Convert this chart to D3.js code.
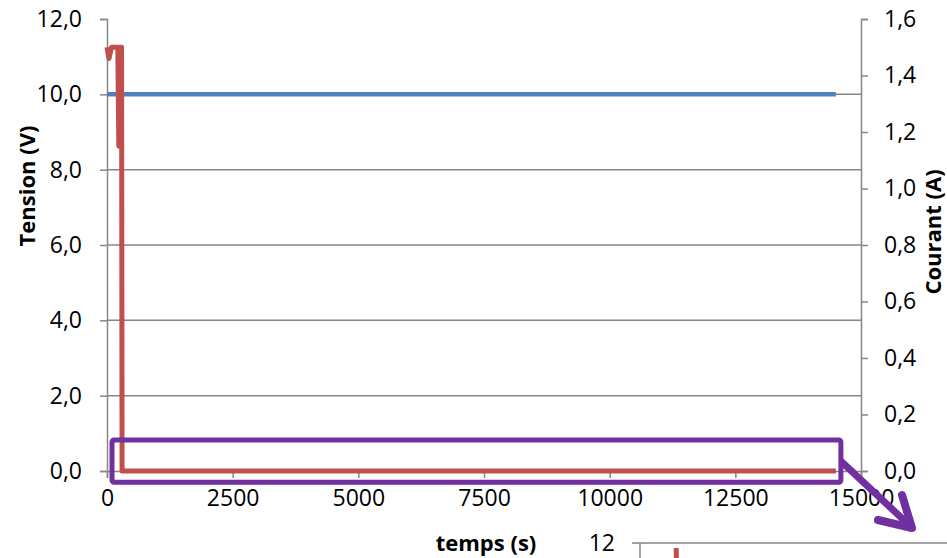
<!DOCTYPE html>
<html>
<head>
<meta charset="utf-8">
<script src="https://cdnjs.cloudflare.com/ajax/libs/d3/7.8.5/d3.min.js"></script>
<style>
  body { margin: 0; background: #fff; overflow: hidden; }
  svg text { font-family: "Open Sans", "Liberation Sans", sans-serif; fill: #000; }
  .tick-label { font-size: 23px; }
  .label { font-size: 22px; font-weight: bold; }
</style>
</head>
<body>
<div id="chart"></div>
<script>
//setup spacing size
var svg_w = 947;
var svg_h = 558;
var margin = {top: 19, right: 86, bottom: 87, left: 107};
var width = svg_w - margin.left - margin.right;
var height = svg_h - margin.top - margin.bottom;

//data
var voltTime = [0, 2000, 4000, 6000, 8000, 10000, 12000, 14500];
var voltValues = [10.0, 10.0, 10.0, 10.0, 10.0, 10.0, 10.0, 10.0];

var currTime = [0, 40, 90, 150, 215, 235, 250, 290, 300, 320, 5000, 10000, 14500];
var currValues = [1.50, 1.46, 1.50, 1.50, 1.50, 1.15, 1.50, 1.50, 0.0, 0.0, 0.0, 0.0, 0.0];

var xTicks = [0, 2500, 5000, 7500, 10000, 12500, 15000];
var voltTicks = [0, 2, 4, 6, 8, 10, 12];
var currTicks = [0, 0.2, 0.4, 0.6, 0.8, 1.0, 1.2, 1.4, 1.6];

//inset (zoomed view, only its top edge is visible)
var insetTime = [290, 305];
var insetValues = [11.8, 0];
var insetTicks = [12];

var svg = d3.select("#chart")
    .append("svg")
    .attr("width", svg_w)
    .attr("height", svg_h);

var g = svg.append("g")
    .attr("transform", "translate(" + margin.left + "," + margin.top + ")");

//scales
var xScale = d3.scaleLinear().domain([0, 15000]).range([0, width]);
var yLeft = d3.scaleLinear().domain([0, 12]).range([height, 0]);
var yRight = d3.scaleLinear().domain([0, 1.6]).range([height, 0]);

var fmt = function(d) { return d3.format(".1f")(d).replace(".", ","); };

//gridlines
g.append("g")
    .selectAll("line")
    .data(voltTicks.filter(function(d) { return d > 0 && d < 12; }))
    .enter()
    .append("line")
    .attr("x1", 0)
    .attr("x2", width)
    .attr("y1", function(d) { return yLeft(d); })
    .attr("y2", function(d) { return yLeft(d); })
    .attr("stroke", "#868686")
    .attr("stroke-width", 1.5);

//axes
var axisL = g.append("g")
    .call(d3.axisLeft(yLeft).tickValues(voltTicks).tickFormat(fmt).tickSize(7).tickPadding(18));

var axisR = g.append("g")
    .attr("transform", "translate(" + width + ",0)")
    .call(d3.axisRight(yRight).tickValues(currTicks).tickFormat(fmt).tickSize(7).tickPadding(16));

var axisB = g.append("g")
    .attr("transform", "translate(0," + height + ")")
    .call(d3.axisBottom(xScale).tickValues(xTicks).tickFormat(d3.format("d")).tickSize(7).tickPadding(12));

[axisL, axisR, axisB].forEach(function(a) {
    a.select(".domain").attr("stroke", "#868686").attr("stroke-width", 1.5);
    a.selectAll(".tick line").attr("stroke", "#868686").attr("stroke-width", 1.5);
    a.selectAll(".tick text")
        .attr("class", "tick-label")
        .attr("font-size", null)
        .attr("font-family", null)
        .style("fill", "#000");
    a.attr("font-size", null).attr("font-family", null);
});

//series
var line = function(ys, times, vals) {
    return d3.line()
        .x(function(d, i) { return xScale(times[i]); })
        .y(function(d) { return ys(d); })(vals);
};

g.append("path")
    .attr("d", line(yLeft, voltTime, voltValues))
    .attr("fill", "none")
    .attr("stroke", "#4F81BD")
    .attr("stroke-width", 4.5);

g.append("path")
    .attr("d", line(yRight, currTime, currValues))
    .attr("fill", "none")
    .attr("stroke", "#C0504D")
    .attr("stroke-width", 5)
    .attr("stroke-linejoin", "round");

//axis titles
g.append("text")
    .attr("class", "label")
    .attr("x", width / 2 + 2)
    .attr("y", height + 80)
    .style("text-anchor", "middle")
    .text("temps (s)");

g.append("text")
    .attr("class", "label")
    .attr("transform", "translate(" + (-margin.left + 35) + "," + 167 + ") rotate(-90)")
    .style("text-anchor", "middle")
    .text("Tension (V)");

g.append("text")
    .attr("class", "label")
    .attr("transform", "translate(" + (width + 80) + "," + 213 + ") rotate(-90)")
    .style("text-anchor", "middle")
    .text("Courant (A)");

//inset chart peeking in at the bottom
var inset = svg.append("g").attr("transform", "translate(640,543)");
var ixScale = d3.scaleLinear().domain([0, 1000]).range([0, 125]);
var iyScale = d3.scaleLinear().domain([0, 12]).range([300, 0]);

inset.append("line")
    .attr("x1", -8).attr("x2", 320)
    .attr("y1", iyScale(12)).attr("y2", iyScale(12))
    .attr("stroke", "#868686").attr("stroke-width", 1.5);
inset.append("line")
    .attr("x1", 0).attr("x2", 0)
    .attr("y1", iyScale(12)).attr("y2", 30)
    .attr("stroke", "#868686").attr("stroke-width", 1.5);
inset.selectAll(".itick")
    .data(insetTicks)
    .enter()
    .append("text")
    .attr("class", "tick-label")
    .attr("x", -25)
    .attr("y", function(d) { return iyScale(d); })
    .attr("dy", "0.35em")
    .style("text-anchor", "end")
    .text(function(d) { return d; });
inset.append("path")
    .attr("d", d3.line()
        .x(function(d, i) { return ixScale(insetTime[i]); })
        .y(function(d) { return iyScale(d); })(insetValues))
    .attr("fill", "none")
    .attr("stroke", "#C0504D")
    .attr("stroke-width", 5);

//purple highlight box and arrow
var boxT0 = 100, boxT1 = 14600, boxTop = 0.11, boxBottom = -0.04;
var bx0 = xScale(boxT0), bx1 = xScale(boxT1);
var by0 = yRight(boxTop), by1 = yRight(boxBottom);

var purple = "#7030A0";
g.append("rect")
    .attr("x", bx0)
    .attr("y", by0)
    .attr("width", bx1 - bx0)
    .attr("height", by1 - by0)
    .attr("rx", 2)
    .attr("fill", "none")
    .attr("stroke", purple)
    .attr("stroke-width", 5);

var ax0 = bx1 + margin.left, ay0 = (by0 + by1) / 2 + margin.top;
var ax1 = 912, ay1 = 528;
svg.append("line")
    .attr("x1", ax0).attr("y1", ay0)
    .attr("x2", ax1 - 4).attr("y2", ay1 - 4)
    .attr("stroke", purple)
    .attr("stroke-width", 7);
svg.append("path")
    .attr("d", "M" + (ax1 - 10) + "," + (ay1 - 33) + " L" + ax1 + "," + ay1 + " L" + (ax1 - 34) + "," + (ay1 - 8))
    .attr("fill", "none")
    .attr("stroke", purple)
    .attr("stroke-width", 8)
    .attr("stroke-linecap", "round")
    .attr("stroke-linejoin", "round");
</script>
</body>
</html>
